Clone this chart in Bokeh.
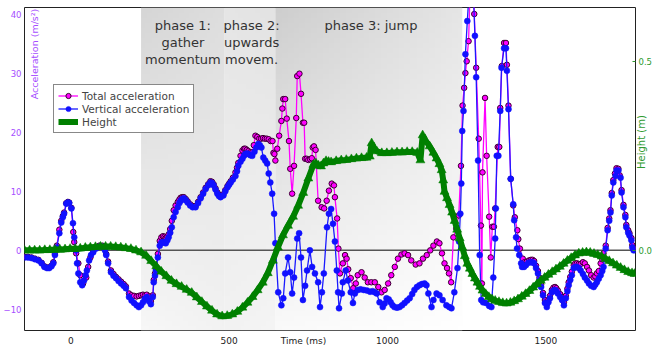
import numpy as np
from bokeh.plotting import figure
from bokeh.models import (ColumnDataSource, Range1d, LinearAxis, FixedTicker, PrintfTickFormatter,
                          Span, Label, Legend, LegendItem)
from bokeh.embed import file_html
from bokeh.resources import INLINE

# ---------------- data ----------------
t_vert = [-146,-135,-124,-113,-102,-92,-83,-75,-68,-61,-55,-50,-44,
          -36,-30,-25,-21,-14,-9,-5,2,7,11,17,20,24,
          30,36,42,47,51,58,64,71,80,90,100,108,
          112,118,127,135,143,151,159,167,174,184,192,200,208,
          215,222,228,234,240,247,253,259,262,266,269,275,
          281,286,291,296,300,305,309,314,319,325,331,338,343,
          347,352,357,363,369,377,385,394,402,410,418,426,434,
          441,446,451,457,463,468,473,482,488,495,500,505,512,
          520,525,529,536,542,547,551,556,561,567,573,580,
          586,592,597,602,608,614,620,625,630,636,642,646,
          655,665,671,677,686,693,699,705,715,721,727,733,
          740,746,755,762,771,781,787,793,799,809,815,822,
          828,834,840,844,847,856,859,868,875,884,891,897,
          906,915,925,935,945,953,960,966,975,985,991,997,
          1004,1010,1016,1022,1030,1038,1046,1054,1062,1070,1078,1085,
          1093,1101,1109,1117,1123,1129,1139,1145,1155,1164,1174,1186,
          1195,1202,1211,1221,1226,1230,1233,1236,1240,1246,1252,1258,
          1265,1271,1276,1280,1286,1291,1296,1302,1311,1321,1328,1334,
          1340,1342,1345,1350,1356,1360,1368,1374,1377,1382,1389,1397,
          1400,1406,1409,1416,1422,1425,1431,1437,1445,1453,1458,1463,
          1469,1475,1480,1485,1491,1497,1503,1508,1513,1519,1524,1529,
          1533,1538,1545,1551,1557,1563,1568,1572,1577,1582,1588,1593,
          1598,1604,1610,1617,1623,1630,1636,1643,1651,1656,1661,1667,
          1673,1678,1682,1689,1695,1700,1704,1708,1713,1720,1723,1729,
          1736,1739,1745,1751,1754,1760,1764,1770,1773,1777]
vertical_acc = [-1.2,-1.2,-1.3,-1.5,-1.7,-2.2,-2.8,-3.0,-3.0,-2.7,-2.2,-0.8,0.5,
          2.9,4.7,5.6,6.2,7.9,8.1,8.0,7.1,4.6,2.2,0.0,-2.2,-3.9,
          -5.4,-5.9,-5.1,-4.2,-3.4,-1.7,-0.8,-0.3,0.3,0.6,0.6,0.0,
          -0.8,-2.2,-3.7,-4.3,-4.7,-5.2,-5.6,-6.0,-6.4,-7.9,-8.5,-8.9,-9.3,
          -9.6,-9.3,-8.8,-8.2,-7.9,-8.6,-9.1,-7.9,-5.4,-4.3,-3.4,-1.2,
          0.8,1.3,1.4,1.3,1.2,1.7,2.2,3.0,3.9,5.6,6.5,7.3,8.0,
          8.4,8.7,8.8,8.5,8.1,7.6,7.3,7.3,8.0,8.8,9.6,10.4,11.0,
          11.5,11.4,11.0,10.3,9.6,9.2,9.0,9.3,10.0,10.7,11.1,11.5,12.0,
          12.6,13.4,14.3,15.0,15.5,16.0,16.3,16.4,16.3,16.1,16.0,16.7,
          17.4,18.0,17.8,17.4,15.7,15.2,14.7,13.0,11.5,9.6,6.2,1.2,
          -7.1,-9.3,-8.1,-3.9,-1.2,-3.7,-7.3,-4.6,2.0,2.9,-1.2,-8.4,
          -6.0,-3.4,0.0,-2.8,-3.9,-5.4,-9.6,-7.1,-3.9,3.9,6.2,7.0,
          4.5,1.5,-3.4,-7.1,-9.8,-7.3,-5.4,-3.4,-5.1,-7.1,-8.9,-7.3,
          -6.7,-6.6,-6.7,-6.8,-7.0,-6.9,-7.1,-7.3,-8.8,-9.6,-9.0,-8.1,
          -8.3,-8.8,-9.3,-9.6,-9.7,-9.6,-9.3,-8.9,-8.5,-8.1,-7.4,-6.7,
          -6.2,-5.9,-5.7,-5.6,-5.9,-7.3,-9.6,-8.4,-7.3,-7.6,-8.4,-9.3,
          -9.6,-9.8,-7.1,-3.0,1.5,6.2,11.3,20.2,23.6,33.2,38.8,44.0,
          46.0,44.0,36.3,29.3,15.2,-0.8,-8.4,-8.8,-8.9,-9.4,-9.6,-4.6,
          2.0,7.1,16.0,16.0,23.6,30.9,34.2,34.2,30.4,23.9,12.1,7.8,
          5.1,2.2,0.3,-0.8,-2.2,-2.8,-2.8,-2.5,-2.1,-2.0,-2.0,-2.2,
          -3.0,-3.9,-5.0,-6.2,-7.6,-8.9,-9.6,-8.8,-8.1,-7.1,-6.8,-6.7,
          -6.9,-7.3,-7.9,-8.4,-9.3,-8.1,-6.9,-5.9,-5.0,-4.2,-3.0,-2.8,
          -2.8,-3.0,-3.4,-4.0,-4.6,-5.1,-5.6,-6.0,-6.2,-5.8,-5.4,-4.8,
          -4.2,-3.5,-2.8,0.3,3.4,5.0,6.4,9.3,11.5,12.6,13.5,13.5,
          12.3,9.8,7.3,5.6,3.9,3.0,2.5,1.7,0.5,0.0]

t_total = [-146,-135,-124,-113,-102,-92,-83,-75,-68,-61,-55,-50,-44,
           -36,-30,-25,-21,-14,-9,-5,2,8,11,17,24,
           30,39,49,55,62,71,80,90,100,108,
           112,118,127,135,143,151,159,167,174,184,192,200,208,
           215,222,228,234,240,247,253,259,262,266,269,275,
           281,286,291,296,300,305,309,314,319,325,331,338,343,
           347,352,357,363,369,377,385,394,402,410,418,426,434,
           441,446,451,457,463,468,473,482,488,495,500,505,512,
           520,525,529,536,542,547,551,556,561,567,573,578,
           583,589,595,601,607,613,619,625,631,637,640,643,
           646,652,658,665,668,671,677,682,689,693,699,705,
           712,715,722,727,733,737,740,745,750,756,761,764,
           768,773,781,792,800,808,815,824,831,834,841,845,
           850,859,866,871,876,884,892,900,906,918,928,938,
           949,960,971,981,991,1002,1012,1023,1033,1044,1054,1065,
           1075,1089,1101,1112,1124,1135,1145,1156,1164,1172,1180,1188,
           1194,1201,1208,1217,1225,1232,1237,1242,1246,1250,1256,1262,
           1268,1274,1280,1288,1295,1298,1300,1308,1313,1321,1326,1331,
           1336,1340,1348,1353,1356,1361,1368,1374,1377,1382,1389,1397,
           1402,1410,1413,1418,1427,1433,1440,1447,1453,1458,1463,1469,
           1475,1480,1485,1491,1497,1503,1508,1513,1519,1524,1529,1533,
           1538,1545,1551,1557,1563,1568,1572,1577,1582,1588,1593,1598,
           1604,1610,1617,1623,1630,1636,1643,1651,1656,1661,1667,1673,
           1678,1682,1689,1695,1700,1704,1708,1713,1718,1723,1729,1733,
           1739,1745,1751,1754,1760,1764,1770,1773,1777]
total_acc = [-1.1,-1.1,-1.2,-1.4,-1.6,-2.1,-2.7,-2.9,-2.9,-2.6,-2.0,-0.6,0.8,
           3.5,5.0,5.8,6.4,8.0,8.2,8.1,7.2,3.1,1.4,-0.5,-2.2,
           -4.2,-5.6,-4.6,-2.8,-1.2,-0.1,0.5,0.8,0.8,0.2,
           -0.6,-1.9,-3.4,-4.0,-4.5,-4.9,-5.3,-5.7,-6.1,-7.3,-7.6,-7.7,-7.8,
           -7.7,-7.6,-7.5,-7.6,-7.5,-7.8,-8.6,-7.6,-5.0,-3.9,-3.0,-0.6,
           1.6,2.2,2.4,2.3,2.1,2.3,2.7,3.6,5.0,6.8,7.6,8.2,8.6,
           8.9,9.0,9.0,8.7,8.3,7.8,7.5,7.5,8.2,9.0,9.8,10.6,11.2,
           11.7,11.6,11.2,10.5,9.8,9.4,9.2,9.5,10.2,10.9,11.3,11.7,12.3,
           13.2,14.0,14.8,16.0,16.9,17.2,17.2,17.0,16.8,16.6,16.6,17.8,
           19.4,19.2,18.9,18.9,19.0,18.9,18.9,18.8,18.5,18.5,16.5,16.3,
           15.2,17.2,19.4,21.9,24.0,25.6,25.6,22.3,18.5,13.8,9.6,14.3,
           22.4,29.5,29.9,26.5,21.6,21.6,15.5,15.5,15.3,15.4,15.6,17.4,
           17.6,17.0,8.4,7.3,7.1,8.4,10.1,11.3,11.0,9.0,5.4,0.3,
           -3.9,-2.2,-0.8,-1.4,-3.2,-4.7,-6.4,-5.6,-4.2,-3.7,-4.6,-5.4,
           -5.4,-5.4,-6.2,-7.1,-6.7,-5.6,-4.2,-2.8,-1.4,-0.7,-0.5,-0.8,
           -1.7,-2.4,-2.2,-1.4,-0.8,0.0,0.8,1.5,1.2,-0.5,-2.2,-3.0,
           -3.9,-5.4,2.2,3.7,5.9,14.3,24.5,27.5,30.0,32.0,35.4,46.0,
           47.0,40.0,30.9,18.9,4.2,-5.6,13.2,25.8,16.0,5.7,-1.2,4.0,
           4.0,7.1,17.5,17.5,24.1,31.2,35.1,35.1,31.4,24.5,12.1,7.6,
           5.6,3.4,1.9,0.3,-1.4,-2.0,-1.9,-1.7,-1.6,-1.6,-1.8,-2.6,
           -3.5,-4.6,-5.8,-7.2,-8.4,-9.1,-8.4,-7.7,-6.7,-6.3,-6.2,-6.4,
           -6.8,-7.4,-7.9,-8.8,-7.7,-6.5,-5.4,-4.5,-3.6,-2.5,-2.2,-2.2,
           -2.3,-2.3,-2.0,-2.2,-2.8,-3.4,-4.2,-4.6,-4.4,-3.9,-3.5,-2.2,
           -1.5,-0.5,0.8,3.8,5.4,6.8,9.7,11.9,13.0,13.9,13.8,12.7,
           10.2,7.7,6.0,4.3,3.4,2.9,2.1,0.9,0.4]

t_height = [-146,-130,-114,-98,-82,-66,-50,-34,
            -18,-2,14,30,46,62,78,94,
            110,126,142,158,174,190,206,222,
            238,254,270,286,302,318,334,350,
            366,382,398,414,430,446,462,478,
            494,510,526,542,558,574,590,606,
            622,638,654,670,686,702,718,734,
            750,766,774,782,790,798,806,814,
            822,838,854,870,886,902,918,934,
            944,950,957,966,982,998,1014,1030,
            1046,1062,1078,1094,1104,1111,1120,1133,
            1145,1155,1164,1171,1176,1180,1188,1196,
            1204,1212,1220,1228,1236,1244,1252,1260,
            1268,1276,1284,1292,1300,1310,1320,1330,
            1340,1352,1364,1376,1388,1400,1412,1424,
            1436,1448,1460,1472,1484,1496,1508,1520,
            1532,1544,1556,1568,1580,1592,1604,1616,
            1628,1640,1652,1664,1676,1688,1700,1712,
            1724,1736,1748,1760,1772,1780]
height_m = [0.000,0.000,0.000,0.000,0.001,0.001,0.002,0.002,
            0.003,0.004,0.004,0.005,0.007,0.008,0.009,0.010,
            0.010,0.010,0.009,0.008,0.006,0.004,0.000,-0.005,
            -0.014,-0.028,-0.042,-0.056,-0.068,-0.080,-0.089,-0.096,
            -0.104,-0.112,-0.124,-0.136,-0.148,-0.159,-0.169,-0.174,
            -0.173,-0.169,-0.162,-0.151,-0.138,-0.123,-0.105,-0.085,
            -0.060,-0.027,0.008,0.040,0.065,0.089,0.118,0.152,
            0.190,0.226,0.230,0.224,0.222,0.230,0.236,0.234,
            0.233,0.236,0.238,0.239,0.241,0.243,0.244,0.245,
            0.248,0.283,0.270,0.262,0.257,0.257,0.258,0.259,
            0.259,0.260,0.260,0.258,0.238,0.304,0.290,0.275,
            0.258,0.243,0.228,0.212,0.185,0.155,0.138,0.120,
            0.100,0.078,0.055,0.032,0.008,-0.015,-0.035,-0.048,
            -0.062,-0.074,-0.085,-0.096,-0.106,-0.115,-0.123,-0.129,
            -0.133,-0.136,-0.139,-0.140,-0.138,-0.134,-0.129,-0.122,
            -0.115,-0.107,-0.098,-0.089,-0.080,-0.072,-0.064,-0.057,
            -0.050,-0.043,-0.035,-0.027,-0.020,-0.013,-0.008,-0.006,
            -0.005,-0.006,-0.009,-0.012,-0.016,-0.022,-0.028,-0.034,
            -0.040,-0.046,-0.052,-0.057,-0.060,-0.062]

phase_start = [222, 486, 646]
phase_end = [486, 646, 1236]
phase_labels = ["phase 1:\ngather\nmomentum", "phase 2:\nupwards\nmovem.", "phase 3: jump"]
phase_label_x = [354, 571, 948]

x_ticks = [0, 500, 1000, 1500]
x_title = "Time (ms)"
x_title_pos = 735
acc_ticks = [-10, 0, 10, 20, 30, 40]
height_ticks = [0.0, 0.5]

# ---------------- styles ----------------
FONT = "DejaVu Sans"
PURPLE = "#a64dff"
GREEN_TXT = "#2f9a2f"
GREEN = "#008000"
ACC_LO, ACC_HI = -13.56, 41.1
H_PER_ACC = 1.0 / 64.07

p = figure(width=655, height=350, output_backend="svg", toolbar_location=None,
           x_range=Range1d(-146, 1783), y_range=Range1d(ACC_LO, ACC_HI),
           min_border_left=23, min_border_right=18, min_border_top=7, min_border_bottom=20)
p.extra_y_ranges = {"h": Range1d(ACC_LO * H_PER_ACC, ACC_HI * H_PER_ACC)}
p.xgrid.visible = False
p.ygrid.visible = False
p.outline_line_color = "#222222"
p.outline_line_width = 1
p.background_fill_color = "white"
p.border_fill_color = "white"

# phase shading (diagonal gray gradients)
shades = [(0.84, 0.87, 0.97, 0.95), (0.90, 0.89, 0.95, 0.96), (0.81, 0.90, 0.98, 1.0)]
for x0, x1, (tl, tr, bl, br) in zip(phase_start, phase_end, shades):
    ny, nx = 64, 32
    yy = np.linspace(0, 1, ny)[:, None]
    xx = np.linspace(0, 1, nx)[None, :]
    g = bl * (1 - xx) * (1 - yy) + br * xx * (1 - yy) + tl * (1 - xx) * yy + tr * xx * yy
    v = np.clip(g * 255, 0, 255).astype(np.uint8)
    img = np.empty((ny, nx), dtype=np.uint32)
    view = img.view(dtype=np.uint8).reshape((ny, nx, 4))
    view[:, :, 0] = v
    view[:, :, 1] = v
    view[:, :, 2] = v
    view[:, :, 3] = 255
    r = p.image_rgba(image=[img], x=x0, y=ACC_LO, dw=x1 - x0, dh=ACC_HI - ACC_LO)
    r.level = "image"

zero = Span(location=0, dimension="width", line_color="#555555", line_width=1.5, level="underlay")
p.add_layout(zero)

src_tot = ColumnDataSource(dict(t=t_total, a=total_acc))
src_ver = ColumnDataSource(dict(t=t_vert, a=vertical_acc))
src_h = ColumnDataSource(dict(t=t_height, h=height_m))

l_tot = p.line("t", "a", source=src_tot, line_color="#ff00ff", line_width=1.3)
m_tot = p.scatter("t", "a", source=src_tot, marker="circle", size=5.5, fill_color="#ff00ff",
                  line_color="#3a0030", line_width=1)
l_ver = p.line("t", "a", source=src_ver, line_color="#1a1aff", line_width=1.3)
m_ver = p.scatter("t", "a", source=src_ver, marker="circle", size=6, fill_color="#1010ff",
                  line_color="#1010ff", line_width=0.5)
l_h = p.line("t", "h", source=src_h, y_range_name="h", line_color=GREEN, line_width=6)
m_h = p.scatter("t", "h", source=src_h, y_range_name="h", marker="triangle", size=9,
                fill_color=GREEN, line_color=GREEN, line_width=0.5)

# axes
xa = p.xaxis[0]
xa.ticker = FixedTicker(ticks=x_ticks + [x_title_pos])
xa.major_label_overrides = {x_title_pos: x_title}
xa.axis_line_color = None
xa.major_tick_in = 0
xa.major_tick_out = 0
xa.minor_tick_line_color = None
xa.major_label_standoff = 5
xa.major_label_text_font = FONT
xa.major_label_text_font_size = "9px"
xa.major_label_text_color = "#222222"

ya = p.yaxis[0]
ya.ticker = FixedTicker(ticks=acc_ticks)
ya.axis_line_color = None
ya.major_tick_in = 0
ya.major_tick_out = 0
ya.minor_tick_line_color = None
ya.major_label_standoff = 3
ya.major_label_text_font = FONT
ya.major_label_text_font_size = "8.5px"
ya.major_label_text_color = PURPLE

ra = LinearAxis(y_range_name="h", ticker=FixedTicker(ticks=height_ticks),
                formatter=PrintfTickFormatter(format="%.1f"))
ra.axis_line_color = None
ra.major_tick_in = 3
ra.major_tick_out = 0
ra.major_tick_line_color = GREEN_TXT
ra.minor_tick_line_color = None
ra.major_label_standoff = 3
ra.major_label_text_font = FONT
ra.major_label_text_font_size = "8.5px"
ra.major_label_text_color = GREEN_TXT
ra.axis_label = "Height (m)"
ra.axis_label_text_font = FONT
ra.axis_label_text_font_size = "10px"
ra.axis_label_text_font_style = "normal"
ra.axis_label_text_color = GREEN_TXT
ra.axis_label_standoff = -14
try:
    ra.axis_label_orientation = float(np.pi / 2)
except Exception:
    pass
p.add_layout(ra, "right")

# texts
for lx, txt in zip(phase_label_x, phase_labels):
    p.add_layout(Label(x=lx, y=39.4, text=txt, text_align="center", text_baseline="top",
                       text_font=FONT, text_font_size="13px", text_color="#333333",
                       text_line_height=1.15))

p.add_layout(Label(x=-116, y=40.9, text="Acceleration (m/s²)", angle=np.pi / 2,
                   text_align="right", text_baseline="middle", text_font=FONT,
                   text_font_size="9.5px", text_color=PURPLE))

legend = Legend(items=[LegendItem(label="Total acceleration", renderers=[l_tot, m_tot]),
                       LegendItem(label="Vertical acceleration", renderers=[l_ver, m_ver]),
                       LegendItem(label="Height", renderers=[l_h, m_h])],
                location=(29, 197))
legend.border_line_color = "#111111"
legend.border_line_width = 1
legend.background_fill_color = "white"
legend.background_fill_alpha = 1
legend.label_text_font = FONT
legend.label_text_font_size = "10.5px"
legend.label_height = 13
legend.glyph_height = 13
legend.glyph_width = 20
legend.label_standoff = 4
legend.spacing = 0
legend.padding = 4
legend.margin = 0
p.add_layout(legend, "center")

open("out.html", "w").write(file_html(p, INLINE))
